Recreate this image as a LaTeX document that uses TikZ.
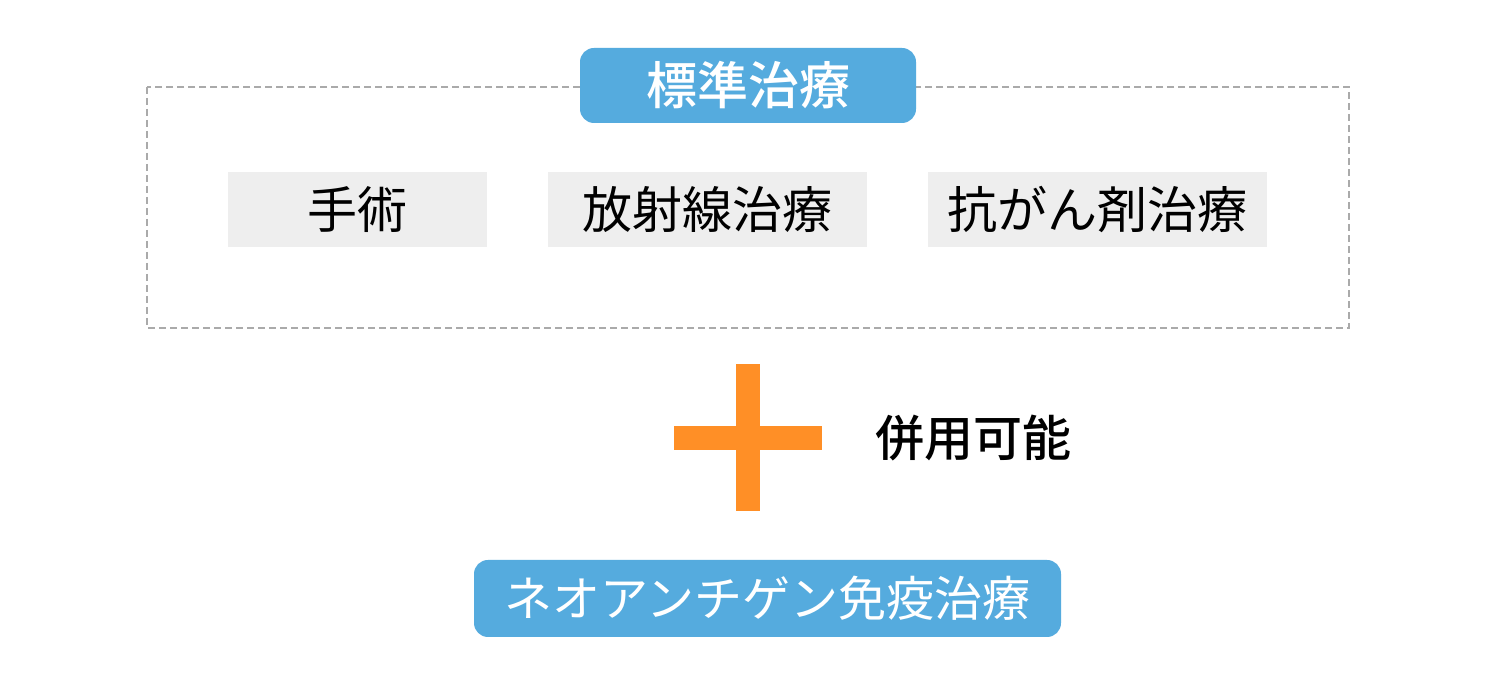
\documentclass[tikz,border=0pt]{standalone}
\usepackage{fontspec}
\setmainfont{Noto Sans CJK JP}
\newfontfamily\cjkmed{Noto Sans CJK JP Medium}
\definecolor{tblue}{RGB}{85,171,222}
\definecolor{torange}{RGB}{255,143,38}
\definecolor{tgray}{RGB}{238,238,238}
\definecolor{tdash}{RGB}{170,170,170}
\tikzset{
  graybox/.style={fill=tgray, minimum height=75pt, inner sep=0pt, font=\fontsize{50}{54}\selectfont, text=black},
  bluebox/.style={fill=tblue, rounded corners=14pt, inner sep=0pt, text=white},
}
\begin{document}
\begin{tikzpicture}[x=1pt,y=1pt]
\useasboundingbox (0,0) rectangle (1500,700);
\fill[white] (0,0) rectangle (1500,700);
% dashed frame
\coordinate (fa) at (147,613);
\coordinate (fb) at (1349,372);
\draw[tdash, line width=1.6pt, dash pattern=on 7pt off 4pt] (fa) rectangle (fb);
% title
\node[bluebox, minimum width=336pt, minimum height=75pt, font=\fontsize{51}{54}\cjkmed] (title) at (748,614.5) {標準治療};
% gray boxes
\node[graybox, minimum width=259pt] (surg) at (357.5,490.5) {手術};
\node[graybox, minimum width=319pt] (rad) at (707.5,490.5) {放射線治療};
\node[graybox, minimum width=339pt] (chemo) at (1097.5,490.5) {抗がん剤治療};
% plus
\fill[torange] (736,189) rectangle (760,336);
\fill[torange] (674,250) rectangle (822,274);
\node[font=\fontsize{49}{54}\cjkmed] (comb) at (973,262) {併用可能};
% bottom
\node[bluebox, minimum width=587pt, minimum height=77pt, font=\fontsize{48}{54}\selectfont] (neo) at (767.5,101.5) {ネオアンチゲン免疫治療};
\end{tikzpicture}
\end{document}
